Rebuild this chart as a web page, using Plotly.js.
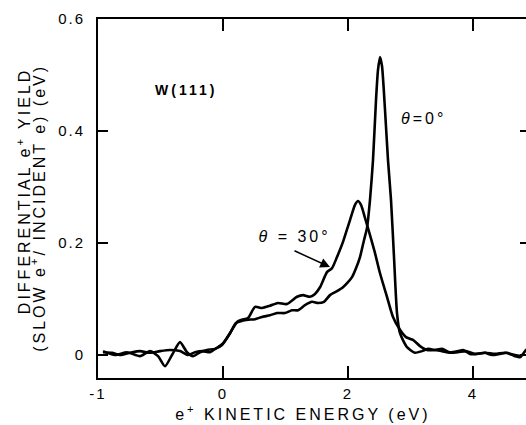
<!DOCTYPE html>
<html>
<head>
<meta charset="utf-8">
<script src="https://cdn.plot.ly/plotly-3.0.1.min.js"></script>
<style>
html, body { margin: 0; padding: 0; overflow: hidden; background: #fff; }
#chart { width: 530px; height: 425px; }
.main-svg text { letter-spacing: 2px; }
.main-svg .annotation-text, .main-svg .xtitle { letter-spacing: 3px; }
</style>
</head>
<body>
<div id="chart"></div>
<script>
// Energy positions on the drawn (linear) axis; the axis tick at -2 is labelled "-1" as in the original figure
const energy30 = [-1.92,-1.728,-1.536,-1.328,-1.168,-1.04,-0.928,-0.816,-0.688,-0.576,-0.48,-0.368,-0.256,-0.128,-0.016,0.112,0.224,0.304,0.4,0.512,0.624,0.752,0.88,1.024,1.184,1.28,1.392,1.472,1.552,1.664,1.744,1.824,1.92,2.032,2.112,2.16,2.208,2.272,2.352,2.432,2.512,2.624,2.72,2.832,2.928,3.04,3.152,3.264,3.392,3.504,3.632,3.76,3.84,3.952,4.064,4.192,4.304,4.432,4.544,4.672,4.752,4.848,4.91];
const yield30 = [0.007,0,0.005,-0.002,0.007,-0.002,-0.02,0,0.023,0.005,-0.002,0.005,0.009,0.011,0.018,0.039,0.059,0.063,0.066,0.086,0.084,0.088,0.093,0.091,0.104,0.107,0.104,0.109,0.121,0.148,0.155,0.175,0.202,0.241,0.268,0.275,0.268,0.245,0.214,0.182,0.146,0.104,0.068,0.045,0.032,0.027,0.016,0.009,0.009,0.011,0.005,0.007,0.009,0.002,0.002,0.004,0,0.002,0.004,-0.002,-0.004,0.009,0.014];

const energy0 = [-1.92,-1.776,-1.648,-1.488,-1.328,-1.168,-1.008,-0.848,-0.688,-0.56,-0.448,-0.32,-0.208,-0.096,0,0.112,0.208,0.304,0.4,0.512,0.624,0.752,0.864,0.992,1.104,1.2,1.312,1.424,1.52,1.616,1.712,1.824,1.92,2.0,2.064,2.128,2.192,2.256,2.304,2.352,2.4,2.448,2.48,2.512,2.544,2.592,2.64,2.688,2.736,2.784,2.832,2.944,3.072,3.184,3.28,3.392,3.504,3.632,3.76,3.888,4.032,4.192,4.352,4.512,4.672,4.784];
const yield0 = [0.005,0.004,0,0.004,0.007,0.004,0.007,0.009,0.007,0,0.005,0.007,0.005,0.013,0.021,0.039,0.057,0.061,0.063,0.064,0.068,0.071,0.075,0.075,0.080,0.080,0.089,0.095,0.093,0.095,0.107,0.114,0.121,0.130,0.139,0.155,0.175,0.205,0.227,0.277,0.348,0.455,0.509,0.532,0.516,0.438,0.348,0.277,0.175,0.075,0.039,0.014,0.004,0.007,0.011,0.009,0.007,0.004,0.005,0.007,0.002,0.004,0.002,0.004,0,-0.002];

const xTickVals = [-2, 0, 2, 4];
const xTickText = ["-1", "0", "2", "4"];
const yTickVals = [0, 0.2, 0.4, 0.6];
const yTickText = ["0", "0.2", "0.4", "0.6"];

const FONT = "Liberation Sans, Arial, Helvetica, sans-serif";
const lineStyle = { color: "#000", width: 2.6, shape: "spline", smoothing: 0.6 };
const X_RANGE = [-2, 4.912];
const Y_RANGE = [-0.041, 0.6];

const traces = [
  { x: energy0, y: yield0, type: "scatter", mode: "lines", name: "θ=0°", line: lineStyle, hoverinfo: "skip" },
  { x: energy30, y: yield30, type: "scatter", mode: "lines", name: "θ=30°", line: lineStyle, hoverinfo: "skip" }
];

const layout = {
  width: 530, height: 425,
  margin: { l: 98, r: 0, t: 19, b: 47 },
  paper_bgcolor: "#fff", plot_bgcolor: "#fff",
  showlegend: false,
  font: { family: FONT, size: 15, color: "#000" },
  xaxis: {
    range: X_RANGE,
    tickmode: "array", tickvals: xTickVals, ticktext: xTickText,
    ticks: "inside", ticklen: 12, tickwidth: 1.6, tickcolor: "#000",
    showline: true, linewidth: 2, linecolor: "#000", mirror: "ticks",
    showgrid: false, zeroline: false,
    ticklabelstandoff: 1,
    tickfont: { family: FONT, size: 15, color: "#000" },
    title: { text: "e<sup>+</sup> KINETIC ENERGY (eV)&nbsp;&nbsp;&nbsp;", font: { family: FONT, size: 16, color: "#000" }, standoff: 8 }
  },
  // minor tick marks, drawn by overlaying axes with the same ranges
  xaxis2: {
    overlaying: "x", anchor: "y", side: "bottom", range: X_RANGE,
    tickmode: "linear", tick0: 0, dtick: 0.4,
    ticks: "inside", ticklen: 7, tickwidth: 1.6, tickcolor: "#000",
    showticklabels: false, showline: false, mirror: "ticks", showgrid: false, zeroline: false
  },
  yaxis: {
    range: Y_RANGE,
    tickmode: "array", tickvals: yTickVals, ticktext: yTickText,
    ticks: "inside", ticklen: 10, tickwidth: 1.6, tickcolor: "#000",
    showline: true, linewidth: 2, linecolor: "#000", mirror: "ticks",
    showgrid: false, zeroline: false,
    ticklabelstandoff: 8,
    tickfont: { family: FONT, size: 15, color: "#000" }
  },
  yaxis2: {
    overlaying: "y", anchor: "x", side: "left", range: Y_RANGE,
    tickmode: "linear", tick0: 0, dtick: 0.04,
    ticks: "inside", ticklen: 7, tickwidth: 1.6, tickcolor: "#000",
    showticklabels: false, showline: false, mirror: "ticks", showgrid: false, zeroline: false
  },
  annotations: [
    { xref: "paper", yref: "paper", x: -0.172, y: 0.521, text: "DIFFERENTIAL e<sup>+</sup> YIELD", textangle: -90, showarrow: false, xanchor: "center", yanchor: "middle", font: { family: FONT, size: 16, color: "#000" } },
    { xref: "paper", yref: "paper", x: -0.139, y: 0.474, text: "(SLOW e<sup>+</sup>/ INCIDENT e) (eV)", textangle: -90, showarrow: false, xanchor: "center", yanchor: "middle", font: { family: FONT, size: 16, color: "#000" } },
    { x: -0.592, y: 0.473, text: "<b>W(111)</b>", showarrow: false, font: { family: FONT, size: 14, color: "#000" } },
    { x: 3.2, y: 0.423, text: "<i>θ</i>=0°", showarrow: false, font: { family: FONT, size: 16, color: "#000" } },
    { x: 1.136, y: 0.211, text: "<i>θ</i> = 30°", showarrow: false, font: { family: FONT, size: 16, color: "#000" } },
    { x: 1.712, y: 0.157, text: "", showarrow: true, ax: -37, ay: -17, arrowhead: 2, arrowsize: 1.3, arrowwidth: 1.5, arrowcolor: "#000", standoff: 0 }
  ]
};

Plotly.newPlot("chart", traces, layout, { staticPlot: true, displayModeBar: false });
</script>
</body>
</html>
